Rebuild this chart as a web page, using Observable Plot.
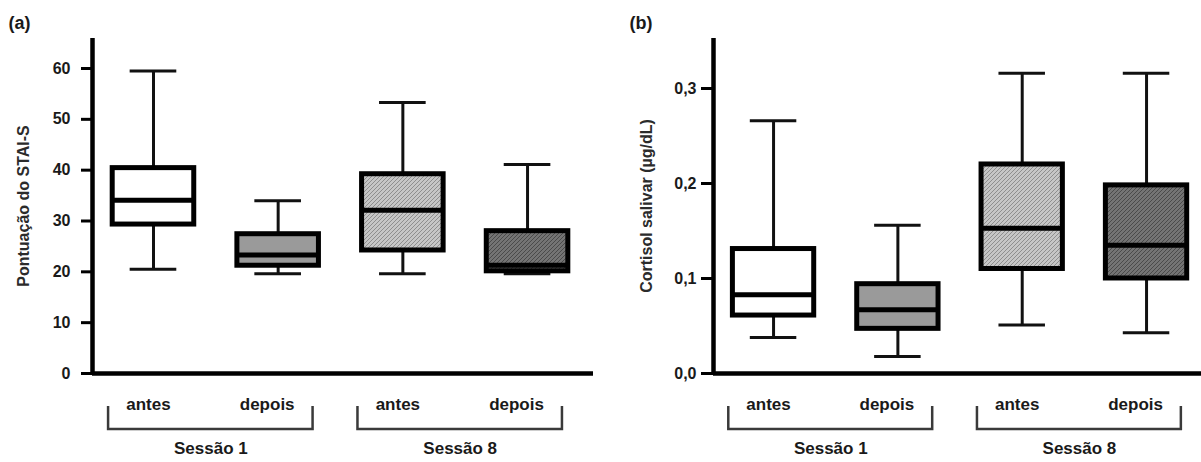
<!DOCTYPE html>
<html><head><meta charset="utf-8">
<script src="https://cdn.jsdelivr.net/npm/d3@7"></script>
<script src="https://cdn.jsdelivr.net/npm/@observablehq/plot@0.6"></script>
<style>
body{margin:0;background:#fff;}
#wrap{display:flex;width:1201px;height:462px;overflow:hidden;}
#wrap svg{overflow:visible;display:block;}
</style></head><body>
<svg width="0" height="0" style="position:absolute">
<defs>
<pattern id="hatchLight" patternUnits="userSpaceOnUse" width="4" height="4">
<rect width="4" height="4" fill="#c6c6c6"/>
<path d="M-1,1 l2,-2 M0,4 l4,-4 M3,5 l2,-2" stroke="#8e8e8e" stroke-width="1"/>
</pattern>
<pattern id="hatchDark" patternUnits="userSpaceOnUse" width="4" height="4">
<rect width="4" height="4" fill="#747474"/>
<path d="M-1,1 l2,-2 M0,4 l4,-4 M3,5 l2,-2" stroke="#4a4a4a" stroke-width="1"/>
</pattern>
</defs></svg>
<div id="wrap"></div>
<script>
// ---- data ----
const categories = ["antes", "depois", "antes", "depois"];
const sessions = ["Sessão 1", "Sessão 8"];
const sessionMembers = [[1, 2], [3, 4]];

// (a) Pontuação do STAI-S
const staiMin = [20.5, 19.6, 19.6, 19.6];
const staiQ1  = [29.3, 21.2, 24.2, 20.1];
const staiMed = [34.1, 23.3, 32.1, 21.3];
const staiQ3  = [40.4, 27.4, 39.2, 28.0];
const staiMax = [59.5, 34.0, 53.3, 41.1];
const staiTicks = [0, 10, 20, 30, 40, 50, 60];

// (b) Cortisol salivar (µg/dL)
const cortMin = [0.038, 0.018, 0.051, 0.043];
const cortQ1  = [0.061, 0.047, 0.110, 0.100];
const cortMed = [0.083, 0.067, 0.153, 0.135];
const cortQ3  = [0.131, 0.094, 0.220, 0.198];
const cortMax = [0.266, 0.156, 0.316, 0.316];
const cortTicks = [0, 0.1, 0.2, 0.3];

// ---- styles ----
const fills = ["#ffffff", "#9a9a9a", "url(#hatchLight)", "url(#hatchDark)"];
const FONT = "Liberation Sans, Arial, sans-serif";
const BOX_HALF = 0.327, CAP_HALF = 0.187;
const BR_LEFT = 0.36, BR_RIGHT = 0.28;

function panel(o) {
  const rows = categories.map((c, k) => ({
    i: k + 1, cat: c, lo: o.mins[k], q1: o.q1[k], med: o.med[k], q3: o.q3[k], hi: o.maxs[k], fill: fills[k]
  }));
  const sess = sessions.map((s, k) => ({
    name: s,
    left: sessionMembers[k][0] - BR_LEFT,
    right: sessionMembers[k][1] + BR_RIGHT
  }));
  const txt = {fill: "#1a1a1a", fontWeight: "bold", fontFamily: FONT};
  const chart = Plot.plot({
    width: o.width, height: 462,
    marginLeft: o.marginLeft, marginRight: o.marginRight, marginTop: 38, marginBottom: 89,
    style: {fontFamily: FONT, background: "transparent", overflow: "visible"},
    x: {type: "linear", domain: o.xDomain, axis: null},
    y: {domain: o.yDomain},
    color: {type: "identity"},
    marks: [
      Plot.ruleX(rows, {x: "i", y1: "lo", y2: "q1", stroke: "#111", strokeWidth: 3}),
      Plot.ruleX(rows, {x: "i", y1: "q3", y2: "hi", stroke: "#111", strokeWidth: 3}),
      Plot.ruleY(rows, {y: "lo", x1: d => d.i - CAP_HALF, x2: d => d.i + CAP_HALF, stroke: "#111", strokeWidth: 3}),
      Plot.ruleY(rows, {y: "hi", x1: d => d.i - CAP_HALF, x2: d => d.i + CAP_HALF, stroke: "#111", strokeWidth: 3}),
      Plot.rect(rows, {x1: d => d.i - BOX_HALF, x2: d => d.i + BOX_HALF, y1: "q1", y2: "q3", fill: "fill", stroke: "#000", strokeWidth: 5}),
      Plot.ruleY(rows, {y: "med", x1: d => d.i - BOX_HALF, x2: d => d.i + BOX_HALF, stroke: "#000", strokeWidth: 5}),
      Plot.ruleY([o.yDomain[0]], {stroke: "#000", strokeWidth: 4.5}),
      Plot.ruleX([o.xDomain[0]], {stroke: "#000", strokeWidth: 4.5}),
      Plot.axisY({ticks: o.ticks, tickFormat: o.tickFormat, tickSize: o.tickSize, tickPadding: o.tickPadding,
        strokeWidth: 3, stroke: "#000", fontSize: 16, fontWeight: "bold", fill: "#1a1a1a", label: null}),
      Plot.text(rows.filter(d => d.cat === "antes"), {x: "i", text: "cat", frameAnchor: "bottom", dy: 31, dx: -5, fontSize: 17, lineAnchor: "middle", ...txt}),
      Plot.text(rows.filter(d => d.cat === "depois"), {x: "i", text: "cat", frameAnchor: "bottom", dy: 31, dx: -11, fontSize: 17, lineAnchor: "middle", ...txt}),
      Plot.text(sess, {x: d => (d.left + d.right) / 2, text: "name", frameAnchor: "bottom", dy: 75, fontSize: 17, lineAnchor: "middle", ...txt}),
      Plot.text([o.yTitle], {text: d => d, frameAnchor: "left", dx: o.titleDx, rotate: -90, textAnchor: "middle", lineAnchor: "middle", fontSize: 16, fontWeight: "bold", fill: "#2b2b2b", fontFamily: FONT}),
      Plot.text([o.letter], {text: d => d, frameAnchor: "top-left", dx: o.letterDx, dy: -15, textAnchor: "start", lineAnchor: "middle", fontSize: 18, ...txt})
    ]
  });
  // session brackets, positioned with the chart's x scale
  const xs = chart.scale("x");
  const yTop = 462 - 89 + 33, yBot = 462 - 89 + 56;
  const ns = "http://www.w3.org/2000/svg";
  for (const s of sess) {
    const p = document.createElementNS(ns, "path");
    const xl = xs.apply(s.left), xr = xs.apply(s.right);
    p.setAttribute("d", `M${xl},${yTop}V${yBot}H${xr}V${yTop}`);
    p.setAttribute("fill", "none");
    p.setAttribute("stroke", "#3a3a3a");
    p.setAttribute("stroke-width", "2.5");
    chart.appendChild(p);
  }
  return chart;
}

const fmtComma = d => d3.format(".1f")(d).replace(".", ",");

const wrap = document.getElementById("wrap");
wrap.appendChild(panel({
  width: 600, marginLeft: 92, marginRight: 7,
  xDomain: [0.511, 4.529], yDomain: [0, 65.9],
  mins: staiMin, q1: staiQ1, med: staiMed, q3: staiQ3, maxs: staiMax,
  ticks: staiTicks, tickFormat: d => String(d), tickSize: 11, tickPadding: 11,
  yTitle: "Pontuação do STAI-S", titleDx: -69, letter: "(a)", letterDx: -84
}));
wrap.appendChild(panel({
  width: 601, marginLeft: 113, marginRight: 0,
  xDomain: [0.517, 4.442], yDomain: [0, 0.3526],
  mins: cortMin, q1: cortQ1, med: cortMed, q3: cortQ3, maxs: cortMax,
  ticks: cortTicks, tickFormat: fmtComma, tickSize: 12, tickPadding: 5,
  yTitle: "Cortisol salivar (µg/dL)", titleDx: -67, letter: "(b)", letterDx: -84
}));
</script>
</body></html>
